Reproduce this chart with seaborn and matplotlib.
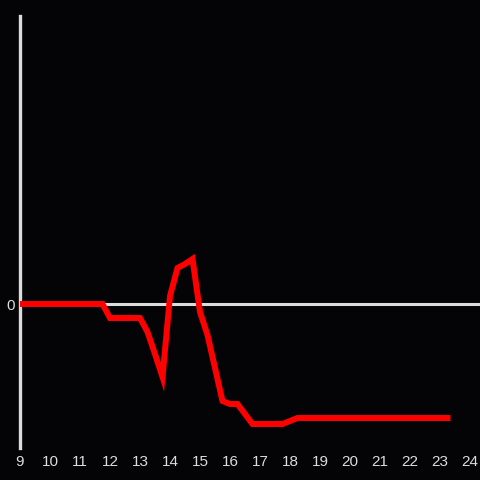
import matplotlib
matplotlib.use("Agg")
import matplotlib.pyplot as plt
import seaborn as sns
import pandas as pd

# quarter-hour readings, values (arbitrary units)
hours = [9.0, 9.25, 9.5, 9.75, 10.0, 10.25, 10.5, 10.75, 11.0, 11.25, 11.5, 11.75,
         12.0, 12.25, 12.5, 12.75, 13.0, 13.25, 13.5, 13.75, 14.0, 14.25, 14.5, 14.75,
         15.0, 15.25, 15.5, 15.75, 16.0, 16.25, 16.5, 16.75, 17.0, 17.25, 17.5, 17.75,
         18.0, 18.25, 18.5, 18.75, 19.0, 19.25, 19.5, 19.75, 20.0, 20.25, 20.5, 20.75,
         21.0, 21.25, 21.5, 21.75, 22.0, 22.25, 22.5, 22.75, 23.0, 23.25]
values = [0, 0, 0, 0, 0, 0, 0, 0, 0, 0, 0, 0,
          -14, -14, -14, -14, -14, -28, -50, -73, 8, 36, 40, 45,
          -8, -31, -64, -97, -100, -100, -110, -120, -120, -120, -120, -120,
          -117, -114, -114, -114, -114, -114, -114, -114, -114, -114, -114, -114,
          -114, -114, -114, -114, -114, -114, -114, -114, -114, -114]
tick_hours = list(range(9, 25))

bg = "#040306"
fg = "#dcdcdc"

sns.set_theme(style="dark", rc={
    "figure.facecolor": bg,
    "axes.facecolor": bg,
    "axes.grid": False,
})
plt.rcParams["font.family"] = ["Liberation Sans", "DejaVu Sans"]

df = pd.DataFrame({"hour": hours, "value": values})

fig = plt.figure(figsize=(4.8, 4.8), dpi=100)
ax = fig.add_axes([20 / 480, 32 / 480, 460 / 480, 432 / 480])

ax.axhline(0, color=fg, lw=2.2, zorder=1)
sns.lineplot(data=df, x="hour", y="value", ax=ax, color="#ff0000", lw=4.3,
             solid_capstyle="projecting", solid_joinstyle="miter", zorder=3)

ax.set_xlim(9, 9 + 460 / 30)
ax.set_ylim(-144, 288)
ax.set_xticks(tick_hours)
ax.set_xticklabels([str(h) for h in tick_hours])
ax.set_yticks([0])
ax.set_yticklabels(["0"])
ax.set_xlabel("")
ax.set_ylabel("")

for side in ["top", "right", "bottom"]:
    ax.spines[side].set_visible(False)
ax.spines["left"].set_color(fg)
ax.spines["left"].set_linewidth(2.4)
ax.spines["left"].set_zorder(2)

ax.tick_params(axis="both", length=0, colors=fg, labelsize=11)
ax.tick_params(axis="x", pad=5)
ax.tick_params(axis="y", pad=4)

fig.savefig("out.png", dpi=100, facecolor=bg)
